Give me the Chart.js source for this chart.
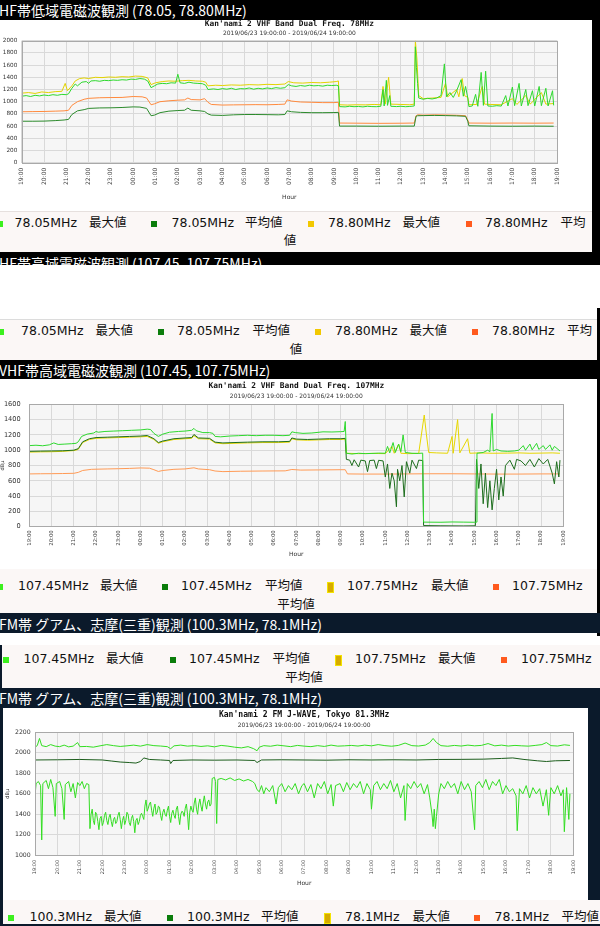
<!DOCTYPE html>
<html><head><meta charset="utf-8">
<script src="https://cdn.jsdelivr.net/npm/chart.js@4.4.1/dist/chart.umd.min.js"></script>
<style>
html,body{margin:0;padding:0;background:#fff;}
#page{position:relative;width:600px;height:926px;overflow:hidden;background:#fff;font-family:"DejaVu Sans","Noto Sans CJK JP",sans-serif;}
.blk{position:absolute;}
.bar{position:absolute;left:0;width:600px;overflow:hidden;}
.bar span{position:absolute;white-space:nowrap;color:#fff;font-family:"Noto Sans CJK JP",sans-serif;font-size:14px;line-height:20px;}
.lg{position:absolute;background:#fbf7f6;}
.t{position:absolute;white-space:nowrap;font-size:12.5px;line-height:16px;color:#111;font-family:"DejaVu Sans","Noto Sans CJK JP",sans-serif;}
.sq{position:absolute;}
canvas{position:absolute;}
</style></head>
<body><div id="page"></div>
<script>
// ---------------- DATA ----------------
const hourLabels = ['19:00','20:00','21:00','22:00','23:00','00:00','01:00','02:00','03:00','04:00','05:00','06:00','07:00','08:00','09:00','10:00','11:00','12:00','13:00','14:00','15:00','16:00','17:00','18:00','19:00'];
const periodText = '2019/06/23 19:00:00 - 2019/06/24 19:00:00';

// Chart 1 : Kan'nami 2 VHF Band Dual Freq. 78MHz   [hour index from 19:00, value]
const c1Max7805 = [[0,1090],[0.2,1100],[0.4,1085],[0.6,1105],[0.8,1095],[1.0,1110],[1.2,1100],[1.4,1115],[1.6,1105],[1.8,1120],[2.0,1115],[2.1,1130],[2.25,1220],[2.4,1290],[2.5,1260],[2.7,1320],[2.9,1330],[3.0,1300],[3.1,1340],[3.3,1345],[3.5,1335],[3.7,1350],[3.9,1345],[4.1,1355],[4.3,1350],[4.5,1360],[4.7,1355],[4.9,1370],[5.1,1365],[5.3,1380],[5.5,1370],[5.65,1340],[5.8,1230],[5.95,1260],[6.1,1290],[6.3,1300],[6.5,1295],[6.7,1310],[6.9,1305],[7.0,1450],[7.1,1310],[7.3,1300],[7.5,1320],[7.7,1305],[7.9,1300],[8.1,1295],[8.25,1270],[8.35,1200],[8.6,1210],[8.8,1200],[9.0,1215],[9.2,1205],[9.4,1220],[9.6,1200],[9.8,1215],[10.0,1210],[10.2,1225],[10.4,1205],[10.6,1220],[10.8,1210],[11.0,1225],[11.2,1215],[11.4,1230],[11.6,1220],[11.8,1230],[11.95,1280],[12.1,1260],[12.3,1250],[12.5,1265],[12.7,1255],[12.9,1270],[13.1,1260],[13.3,1265],[13.5,1255],[13.7,1270],[13.9,1265],[14.1,1270],[14.2,1260],[14.25,920],[14.5,915],[14.7,925],[14.9,918],[15.1,922],[15.3,915],[15.5,925],[15.7,920],[15.9,918],[16.1,925],[16.2,1200],[16.25,930],[16.35,1350],[16.4,940],[16.5,1100],[16.55,925],[16.8,920],[17.0,925],[17.2,918],[17.4,922],[17.6,930],[17.65,1900],[17.7,1560],[17.75,1300],[17.8,1060],[18.0,1040],[18.2,1055],[18.4,1045],[18.6,1060],[18.8,1100],[18.95,1620],[19.05,1080],[19.2,1150],[19.35,1070],[19.5,1180],[19.7,1360],[19.8,1090],[19.9,1250],[20.0,1060],[20.05,920],[20.2,930],[20.35,1120],[20.45,925],[20.6,1480],[20.7,940],[20.8,1500],[20.9,930],[21.1,925],[21.3,935],[21.5,928],[21.7,1100],[21.8,930],[22.0,1240],[22.1,935],[22.3,1300],[22.4,930],[22.6,1200],[22.7,935],[22.9,1180],[23.0,930],[23.2,1250],[23.3,935],[23.5,1220],[23.6,930],[23.8,1180],[23.85,940]];
const c1Avg7805 = [[0,680],[0.5,680],[1.0,682],[1.5,690],[1.9,700],[2.1,710],[2.25,790],[2.5,850],[2.8,870],[3.0,890],[3.5,898],[4.0,900],[4.5,905],[5.0,915],[5.3,912],[5.6,890],[5.8,770],[5.95,780],[6.2,820],[6.6,845],[7.0,855],[7.3,860],[7.45,895],[7.6,860],[8.0,850],[8.2,840],[8.35,800],[8.5,780],[9.0,775],[9.5,785],[10.0,790],[10.5,790],[11.0,788],[11.5,785],[11.8,790],[11.9,850],[12.1,835],[12.5,825],[13.0,820],[13.5,820],[14.0,822],[14.2,825],[14.25,600],[15.0,600],[16.0,598],[17.0,600],[17.6,600],[17.68,760],[17.75,770],[18.0,772],[18.5,775],[19.0,772],[19.5,768],[19.9,760],[20.0,680],[20.05,605],[21.0,600],[22.0,598],[23.0,600],[23.85,598]];
const c1Max7880 = [[0,1140],[0.3,1150],[0.6,1135],[0.9,1160],[1.2,1150],[1.5,1165],[1.8,1170],[1.95,1300],[2.05,1180],[2.25,1260],[2.4,1340],[2.6,1380],[2.8,1390],[3.0,1380],[3.3,1400],[3.6,1395],[3.9,1405],[4.2,1400],[4.5,1410],[4.8,1405],[5.1,1420],[5.4,1415],[5.65,1390],[5.8,1280],[6.0,1310],[6.3,1330],[6.6,1340],[6.9,1335],[7.2,1345],[7.5,1350],[7.8,1340],[8.1,1335],[8.25,1320],[8.35,1260],[8.7,1270],[9.0,1265],[9.4,1275],[9.8,1270],[10.2,1280],[10.6,1275],[11.0,1285],[11.4,1280],[11.8,1290],[11.95,1330],[12.2,1310],[12.6,1305],[13.0,1315],[13.4,1310],[13.8,1320],[14.1,1330],[14.2,1340],[14.25,950],[14.6,945],[15.0,950],[15.4,948],[15.8,955],[16.1,950],[16.2,1250],[16.3,960],[16.45,1400],[16.55,960],[17.0,955],[17.4,950],[17.6,960],[17.65,2000],[17.72,1700],[17.8,1100],[18.0,1050],[18.4,1060],[18.8,1070],[19.0,1300],[19.1,1080],[19.5,1200],[19.6,1080],[19.75,1380],[19.85,1100],[20.0,1070],[20.05,950],[20.4,955],[20.65,1250],[20.75,960],[21.0,955],[21.5,950],[22.0,1050],[22.2,955],[22.6,1100],[22.8,960],[23.3,1150],[23.5,960],[23.85,970]];
const c1Avg7880 = [[0,835],[0.5,838],[1.0,840],[1.5,845],[1.9,850],[2.1,860],[2.25,940],[2.5,1000],[2.8,1040],[3.0,1055],[3.5,1065],[4.0,1068],[4.5,1070],[5.0,1085],[5.4,1080],[5.6,1060],[5.8,950],[5.95,965],[6.2,1000],[6.6,1015],[7.0,1025],[7.3,1030],[7.45,1060],[7.6,1035],[8.0,1030],[8.2,1050],[8.35,990],[8.5,955],[9.0,945],[9.5,948],[10.0,950],[10.5,952],[11.0,950],[11.5,955],[11.8,960],[11.9,1030],[12.1,1010],[12.5,995],[13.0,990],[13.5,985],[14.0,985],[14.2,990],[14.25,650],[15.0,648],[16.0,645],[17.0,647],[17.6,650],[17.68,770],[17.75,785],[18.0,780],[18.5,785],[19.0,782],[19.5,778],[19.9,770],[20.0,700],[20.05,650],[21.0,648],[22.0,650],[23.0,648],[23.85,650]];

// Chart 2 : Kan'nami 2 VHF Band Dual Freq. 107MHz
const c2Max10745 = [[0,1060],[0.3,1065],[0.6,1058],[0.9,1070],[1.1,1095],[1.3,1075],[1.6,1080],[1.9,1085],[2.1,1090],[2.2,1110],[2.35,1180],[2.6,1210],[2.9,1225],[3.0,1245],[3.1,1235],[3.4,1245],[3.8,1250],[4.2,1255],[4.6,1260],[5.0,1265],[5.3,1275],[5.45,1270],[5.6,1220],[5.8,1180],[6.0,1210],[6.3,1235],[6.7,1245],[7.0,1250],[7.3,1260],[7.4,1285],[7.5,1255],[7.8,1230],[8.1,1230],[8.25,1220],[8.35,1180],[8.6,1175],[9.0,1185],[9.4,1190],[9.8,1195],[10.2,1190],[10.6,1195],[11.0,1195],[11.4,1190],[11.7,1195],[11.8,1240],[11.95,1230],[12.3,1220],[12.7,1225],[13.2,1240],[13.6,1238],[14.0,1242],[14.15,1245],[14.2,1375],[14.25,960],[14.5,950],[14.8,960],[15.1,955],[15.4,958],[15.7,962],[16.0,960],[16.1,1050],[16.2,965],[16.35,1100],[16.45,970],[16.6,1080],[16.7,980],[16.8,1200],[16.9,970],[17.2,960],[17.5,958],[17.68,962],[17.72,60],[18.5,58],[19.0,62],[19.5,60],[20.0,58],[20.08,60],[20.12,960],[20.4,970],[20.6,1000],[20.7,980],[20.8,1480],[20.85,990],[21.0,1010],[21.2,990],[21.5,985],[21.8,990],[22.0,1000],[22.2,1060],[22.3,1000],[22.5,1080],[22.6,1005],[22.8,1090],[22.9,1010],[23.1,1060],[23.2,1010],[23.4,1070],[23.5,1000],[23.6,1050],[23.85,990]];
const c2Avg10745 = [[0,985],[0.5,988],[1.0,990],[1.5,992],[2.0,1000],[2.2,1020],[2.4,1110],[2.7,1150],[3.0,1165],[3.5,1170],[4.0,1175],[4.5,1180],[5.0,1185],[5.3,1192],[5.6,1150],[5.8,1100],[6.0,1120],[6.5,1150],[7.0,1160],[7.3,1165],[7.4,1205],[7.6,1160],[8.1,1155],[8.35,1105],[8.7,1095],[9.2,1100],[9.8,1105],[10.5,1110],[11.2,1110],[11.7,1115],[11.8,1160],[12.0,1145],[12.5,1140],[13.0,1145],[13.5,1150],[14.0,1150],[14.2,1155],[14.25,880],[14.4,870],[14.5,800],[14.6,875],[14.8,780],[14.9,870],[15.1,860],[15.2,720],[15.3,865],[15.5,870],[15.6,760],[15.7,868],[15.9,860],[16.0,650],[16.1,820],[16.2,500],[16.3,700],[16.4,600],[16.5,260],[16.55,750],[16.65,600],[16.75,800],[16.85,390],[16.95,850],[17.1,700],[17.2,870],[17.4,760],[17.5,870],[17.68,865],[17.72,15],[18.5,12],[19.5,10],[20.05,12],[20.1,880],[20.2,500],[20.3,820],[20.4,300],[20.5,700],[20.6,250],[20.7,600],[20.8,220],[20.9,500],[21.0,750],[21.1,350],[21.2,650],[21.3,400],[21.4,800],[21.6,870],[21.8,750],[21.9,880],[22.1,860],[22.3,800],[22.5,880],[22.7,780],[22.9,890],[23.1,820],[23.3,880],[23.5,700],[23.6,560],[23.7,850],[23.8,650],[23.85,870]];
const c2Max10775 = [[0,975],[0.5,978],[1.0,980],[1.5,985],[2.0,995],[2.2,1010],[2.4,1100],[2.7,1140],[3.0,1155],[3.5,1160],[4.0,1165],[4.5,1170],[5.0,1175],[5.3,1180],[5.6,1140],[5.8,1090],[6.0,1110],[6.5,1140],[7.0,1150],[7.3,1155],[7.4,1190],[7.6,1150],[8.1,1145],[8.35,1095],[8.7,1085],[9.2,1090],[9.8,1095],[10.5,1100],[11.2,1100],[11.7,1105],[11.8,1150],[12.0,1135],[12.5,1130],[13.0,1135],[13.5,1140],[14.0,1140],[14.2,1145],[14.25,960],[14.8,955],[15.4,958],[16.0,955],[16.3,1050],[16.4,960],[16.6,1080],[16.7,960],[17.0,955],[17.5,958],[17.75,1460],[17.85,1200],[17.95,970],[18.3,965],[18.8,960],[19.0,1180],[19.05,960],[19.25,1400],[19.35,965],[19.7,1150],[19.8,960],[20.2,965],[20.8,960],[21.5,962],[22.0,965],[22.5,960],[23.0,962],[23.5,965],[23.85,960]];
const c2Avg10775 = [[0,690],[0.5,692],[1.0,693],[1.5,695],[2.0,698],[2.2,710],[2.4,735],[2.8,750],[3.5,755],[4.0,758],[4.5,762],[5.0,768],[5.4,765],[5.6,745],[5.8,722],[6.0,735],[6.5,750],[7.0,755],[7.4,770],[7.6,755],[8.1,745],[8.35,728],[8.7,720],[9.5,725],[10.5,728],[11.5,730],[11.8,748],[12.2,740],[13.0,742],[14.0,745],[14.2,745],[14.3,690],[15.0,688],[16.0,688],[17.0,690],[18.0,692],[19.0,692],[20.0,690],[21.0,688],[22.0,688],[23.0,690],[23.85,690]];

// Chart 3 : Kan'nami 2 FM J-WAVE, Tokyo 81.3MHz
const c3Max1003 = [[0,2055],[0.1,2070],[0.2,2140],[0.3,2070],[0.5,2060],[0.7,2080],[0.9,2065],[1.1,2060],[1.3,2075],[1.5,2058],[1.7,2065],[1.9,2100],[2.0,2060],[2.3,2062],[2.6,2055],[2.9,2068],[3.2,2080],[3.5,2070],[3.8,2062],[4.1,2068],[4.4,2075],[4.7,2065],[5.0,2080],[5.3,2070],[5.6,2066],[5.9,2060],[6.05,2040],[6.2,2068],[6.5,2075],[6.8,2065],[7.1,2070],[7.4,2062],[7.7,2068],[8.0,2058],[8.3,2072],[8.6,2065],[8.9,2055],[9.2,2048],[9.5,2060],[9.75,2040],[9.9,2020],[10.0,2055],[10.2,2070],[10.5,2064],[10.8,2075],[11.1,2068],[11.4,2060],[11.7,2072],[12.0,2065],[12.3,2060],[12.6,2070],[12.9,2062],[13.2,2075],[13.5,2065],[13.8,2068],[14.1,2072],[14.4,2066],[14.7,2075],[15.0,2068],[15.3,2080],[15.6,2070],[15.9,2064],[16.2,2072],[16.5,2095],[16.8,2070],[17.1,2066],[17.4,2075],[17.6,2100],[17.75,2140],[17.9,2100],[18.1,2070],[18.4,2064],[18.7,2072],[19.0,2066],[19.3,2075],[19.6,2068],[19.9,2072],[20.2,2090],[20.5,2068],[20.8,2075],[21.1,2066],[21.4,2072],[21.7,2068],[22.0,2065],[22.3,2072],[22.6,2080],[22.8,2100],[23.0,2070],[23.3,2066],[23.6,2078],[23.85,2072]];
const c3Avg1003 = [[0,1930],[1,1932],[2,1935],[3,1930],[3.4,1920],[3.8,1910],[4.2,1905],[4.5,1900],[4.7,1915],[4.85,1950],[5.1,1935],[5.6,1930],[6.0,1925],[6.05,1895],[6.15,1925],[7,1930],[8,1928],[9,1930],[9.8,1925],[9.9,1905],[10.1,1930],[11,1932],[12,1930],[13,1928],[14,1932],[15,1930],[16,1932],[17,1930],[18,1935],[19,1936],[20,1938],[20.8,1945],[21.3,1950],[21.8,1935],[22.4,1922],[22.8,1915],[23.2,1922],[23.85,1925]];
const c3LowerTrace = [[0,1580],[0.05,1700],[0.15,1720],[0.25,1680],[0.3,1150],[0.35,1700],[0.5,1730],[0.6,1650],[0.7,1740],[0.8,1660],[0.9,1380],[0.95,1700],[1.1,1720],[1.2,1650],[1.3,1350],[1.35,1690],[1.5,1720],[1.6,1620],[1.7,1700],[1.8,1560],[1.9,1710],[2.0,1680],[2.1,1720],[2.2,1650],[2.3,1700],[2.4,1690],[2.45,1260],[2.5,1400],[2.55,1450],[2.6,1340],[2.65,1300],[2.7,1420],[2.75,1400],[2.8,1330],[2.85,1250],[2.9,1360],[2.95,1380],[3.0,1290],[3.05,1320],[3.1,1390],[3.15,1420],[3.2,1340],[3.25,1300],[3.3,1370],[3.35,1400],[3.4,1330],[3.45,1280],[3.5,1350],[3.55,1370],[3.6,1310],[3.65,1330],[3.7,1390],[3.75,1420],[3.8,1350],[3.85,1260],[3.9,1340],[3.95,1380],[4.0,1300],[4.05,1340],[4.1,1420],[4.15,1400],[4.2,1320],[4.25,1290],[4.3,1360],[4.35,1390],[4.4,1330],[4.45,1220],[4.5,1340],[4.55,1360],[4.6,1300],[4.65,1330],[4.7,1390],[4.75,1410],[4.8,1380],[4.85,1350],[4.9,1480],[4.95,1540],[5.0,1430],[5.05,1460],[5.1,1500],[5.15,1520],[5.2,1440],[5.25,1380],[5.3,1460],[5.35,1500],[5.4,1400],[5.45,1420],[5.5,1480],[5.55,1470],[5.6,1390],[5.65,1340],[5.7,1420],[5.75,1450],[5.8,1400],[5.85,1380],[5.9,1440],[5.95,1480],[6.0,1380],[6.05,1320],[6.1,1410],[6.15,1440],[6.2,1390],[6.25,1360],[6.3,1450],[6.35,1480],[6.4,1380],[6.45,1300],[6.5,1400],[6.55,1430],[6.6,1420],[6.65,1380],[6.7,1460],[6.75,1500],[6.8,1400],[6.85,1250],[6.9,1420],[6.95,1480],[7.0,1440],[7.05,1420],[7.1,1510],[7.15,1560],[7.2,1450],[7.25,1400],[7.3,1500],[7.35,1550],[7.4,1480],[7.45,1430],[7.5,1520],[7.55,1580],[7.6,1500],[7.65,1450],[7.7,1520],[7.75,1540],[7.8,1480],[7.85,1500],[7.9,1750],[8.0,1760],[8.05,1720],[8.1,1310],[8.15,1740],[8.3,1750],[8.5,1735],[8.7,1755],[8.9,1730],[9.1,1745],[9.3,1725],[9.5,1740],[9.7,1720],[9.8,1700],[9.9,1640],[10.0,1620],[10.1,1680],[10.2,1600],[10.3,1660],[10.45,1620],[10.6,1680],[10.75,1500],[10.85,1660],[11.0,1700],[11.15,1620],[11.3,1680],[11.45,1640],[11.6,1700],[11.75,1600],[11.9,1680],[12.0,1700],[12.15,1620],[12.3,1690],[12.45,1560],[12.6,1700],[12.75,1650],[12.9,1720],[13.05,1600],[13.2,1690],[13.3,1480],[13.4,1680],[13.6,1700],[13.75,1620],[13.9,1710],[14.05,1640],[14.2,1700],[14.35,1660],[14.5,1720],[14.65,1600],[14.8,1700],[14.95,1640],[15.0,1450],[15.1,1680],[15.25,1720],[15.4,1640],[15.55,1700],[15.7,1650],[15.85,1730],[16.0,1620],[16.15,1700],[16.3,1560],[16.45,1680],[16.5,1340],[16.6,1700],[16.75,1650],[16.9,1720],[17.05,1660],[17.2,1700],[17.35,1600],[17.5,1690],[17.6,1560],[17.7,1400],[17.75,1280],[17.8,1450],[17.85,1260],[17.9,1380],[18.0,1600],[18.1,1700],[18.25,1650],[18.4,1720],[18.55,1660],[18.7,1700],[18.85,1600],[19.0,1720],[19.15,1640],[19.3,1700],[19.45,1620],[19.6,1250],[19.65,1680],[19.8,1720],[19.95,1660],[20.1,1740],[20.25,1640],[20.4,1720],[20.55,1680],[20.7,1740],[20.85,1600],[21.0,1680],[21.15,1620],[21.3,1650],[21.45,1580],[21.5,1240],[21.6,1650],[21.75,1600],[21.9,1680],[22.05,1560],[22.2,1660],[22.35,1600],[22.5,1650],[22.65,1480],[22.8,1640],[22.9,1390],[23.0,1660],[23.15,1600],[23.3,1680],[23.45,1580],[23.55,1640],[23.6,1230],[23.7,1660],[23.8,1350],[23.85,1600]];

// Legend / header texts
const legend1Labels = [['78.05MHz','最大値'],['78.05MHz','平均値'],['78.80MHz','最大値'],['78.80MHz','平均値']];
const legend2Labels = [['107.45MHz','最大値'],['107.45MHz','平均値'],['107.75MHz','最大値'],['107.75MHz','平均値']];
const legend3Labels = [['100.3MHz','最大値'],['100.3MHz','平均値'],['78.1MHz','最大値'],['78.1MHz','平均値']];
const headerTexts = ['VHF帯低域電磁波観測 (78.05, 78.80MHz)','VHF帯高域電磁波観測 (107.45, 107.75MHz)','FM帯 グアム、志摩(三重)観測 (100.3MHz, 78.1MHz)'];

// ---------------- LAYOUT ----------------
const page = document.getElementById('page');
function el(cls, css, parent){ const d=document.createElement('div'); if(cls) d.className=cls; Object.assign(d.style, css); (parent||page).appendChild(d); return d; }
function px(v){ return v+'px'; }

function bar(top, h, bg, text, x, cy){
  const b = el('bar', {top:px(top), height:px(h), background:bg});
  const s = document.createElement('span'); s.textContent = text; s.style.left = px(x); s.style.top = px(cy - 10); b.appendChild(s);
}
function block(l,t,w,h,bg){ el('blk',{left:px(l),top:px(t),width:px(w),height:px(h),background:bg}); }

const legendColors = ['#3cf01e','#0b7d0b','#f2c800','#ff5a1e'];
function legend(box, labels, items, row1, row2, wrapText, wrapX, tallYellow){
  el('lg',{left:px(box.l),top:px(box.t),width:px(box.w),height:px(box.h),borderTop:box.bt||'none'});
  function txt(s, x, cy, center){ const d = el('t',{left:px(x), top:px(cy-8)}); d.textContent=s; if(center){ d.style.left='0px'; d.style.width=px(2*x); d.style.textAlign='center'; } return d; }
  items.forEach((it,i)=>{
    if (i===2 && tallYellow) el('sq',{left:px(it.sq),top:px(row1-4),width:px(5),height:px(9),background:'#d6ab00',border:'1px solid #f4e300'});
    else el('sq',{left:px(it.sq),top:px(row1-2),width:px(6),height:px(6),background:legendColors[i]});
    txt(labels[i][0], it.f, row1);
    if (it.k !== null) txt(it.split ? labels[i][1].slice(0,it.split) : labels[i][1], it.k, row1);
  });
  if (wrapText) txt(wrapText, wrapX, row2, true);
}

// header bars, frames and legends
bar(0, 20, '#000', headerTexts[0], -9, 10);
block(592, 0, 8, 265, '#000');
legend({l:0,t:211,w:592,h:41,bt:'1px solid #e6e0de'}, legend1Labels,
  [{sq:-3,f:14.5,k:89},{sq:151,f:171.5,k:245},{sq:308,f:328,k:402.5},{sq:466,f:485,k:560.5,split:2}], 222.5, 241, '値', 290);
bar(252, 13, '#000', headerTexts[1], -9, 10.5);
block(597, 308, 3, 328, '#000');
legend({l:0,t:319,w:597,h:41,bt:'1px solid #dcdcdc'}, legend1Labels,
  [{sq:-2,f:21,k:95.5},{sq:158,f:177,k:252.5},{sq:472,f:492,k:566,split:2}].slice(0,2).concat([{sq:315,f:335,k:409.5},{sq:472,f:492,k:567,split:2}]), 331, 350, '値', 296);
bar(360, 19, '#000', headerTexts[1], -1, 9.5);
legend({l:0,t:569,w:597,h:44}, legend2Labels,
  [{sq:-3,f:18,k:100},{sq:162,f:181,k:265},{sq:327,f:347,k:431},{sq:493,f:512,k:null}], 586, 605, '平均値', 296, true);
bar(613, 20, '#0b1a2b', headerTexts[2], -1, 10.5);
block(0, 645, 2, 43, '#0b1a2b');
legend({l:2,t:645,w:598,h:43}, legend2Labels,
  [{sq:3,f:23.5,k:106},{sq:170,f:189,k:272.5},{sq:335,f:355,k:438},{sq:501,f:521,k:null}], 659, 678, '平均値', 304, true);
bar(688, 20, '#0b1a2b', headerTexts[2], -1, 10);
block(0, 708, 3, 218, '#0b1a2b');
block(588, 708, 12, 192, '#0b1a2b');
legend({l:3,t:900,w:597,h:24}, legend3Labels,
  [{sq:8,f:29.5,k:104},{sq:167,f:187,k:261},{sq:324,f:345,k:412.5},{sq:474,f:494.5,k:561.5}], 916.5, 0, null, 0, true);
block(0, 924, 600, 2, '#0b1a2b');

// ---------------- CHARTS ----------------
const plotFrame = {
  id:'plotFrame',
  beforeDraw(chart){ const {ctx, chartArea:a} = chart; ctx.save(); ctx.fillStyle='#f6f6f6'; ctx.fillRect(a.left,a.top,a.right-a.left,a.bottom-a.top); ctx.restore(); },
  afterDraw(chart){ const {ctx, chartArea:a} = chart; ctx.save(); ctx.strokeStyle='#a9a9a9'; ctx.lineWidth=1; ctx.strokeRect(Math.round(a.left)+0.5,Math.round(a.top)+0.5,Math.round(a.right-a.left),Math.round(a.bottom-a.top)); ctx.restore(); }
};
function line(label, pairs, color){
  return {label, data: pairs.map(p=>({x:p[0],y:p[1]})), borderColor:color, backgroundColor:color, borderWidth:1, pointRadius:0, tension:0, fill:false};
}
function makeChart(g, title, datasets, yMin, yMax, yTitle){
  const cv = document.createElement('canvas');
  cv.width = g.w; cv.height = g.h; cv.style.left = px(g.l); cv.style.top = px(g.t);
  page.appendChild(cv);
  new Chart(cv.getContext('2d'), {
    type:'line',
    data:{datasets},
    options:{
      responsive:false, animation:false, devicePixelRatio:1,
      layout:{padding:{left:0,right:g.padR,top:0,bottom:0}},
      plugins:{
        legend:{display:false}, tooltip:{enabled:false},
        title:{display:true, text:title, fullSize:false, color:'#111', font:{family:'DejaVu Sans Mono', size:g.tSize, lineHeight:1}, padding:{top:g.tTop,bottom:g.tBot}},
        subtitle:{display:true, text:periodText, fullSize:false, color:'#333', font:{family:'DejaVu Sans', size:6, lineHeight:1}, padding:{top:0,bottom:g.sBot}}
      },
      scales:{
        x:{type:'linear', min:0, max:24,
          afterFit(s){ s.height = g.xH; },
          ticks:{stepSize:1, autoSkip:false, minRotation:90, maxRotation:90, padding:g.xPad, color:'#444', font:{family:'DejaVu Sans', size:g.xFont}, callback:(v)=>hourLabels[Math.round(v)]},
          grid:{color:'#d9d9d9', drawTicks:false}, border:{display:false},
          title:{display:true, text:'Hour', color:'#333', font:{family:'DejaVu Sans', size:6, lineHeight:1}, padding:{top:0,bottom:g.hourPad}}},
        y:{min:yMin, max:yMax,
          afterFit(s){ s.width = g.yW; },
          ticks:{stepSize:200, padding:g.yPad, color:'#333', font:{family:'DejaVu Sans', size:g.yFont}, callback:(v)=>String(v)},
          grid:{color:'#d9d9d9', drawTicks:false}, border:{display:false},
          title:{display:!!yTitle, text:yTitle||'', color:'#333', font:{family:'DejaVu Sans', size:5, lineHeight:1}, padding:{top:g.yTitlePad||0,bottom:0}}}
      }
    },
    plugins:[plotFrame]
  });
}

makeChart({l:0,t:20,w:588,h:188,padR:31,yW:21.7,xH:45.3,tSize:7.8,tTop:0,tBot:2.25,sBot:4.65,xPad:5,xFont:6,yPad:4.4,yFont:5.7,hourPad:8},
  "Kan'nami 2 VHF Band Dual Freq. 78MHz",
  [line('78.05MHz 最大値', c1Max7805, '#2ed82e'), line('78.05MHz 平均値', c1Avg7805, '#2c8a2c'),
   line('78.80MHz 最大値', c1Max7880, '#e2d200'), line('78.80MHz 平均値', c1Avg7880, '#ff8a3d')], 0, 2000, null);

makeChart({l:0,t:379,w:590,h:190,padR:26.7,yW:29.3,xH:42.3,tSize:7.9,tTop:3,tBot:3.1,sBot:5.3,xPad:3.5,xFont:5.4,yPad:8.6,yFont:6.6,hourPad:12,yTitlePad:0},
  "Kan'nami 2 VHF Band Dual Freq. 107MHz",
  [line('107.45MHz 最大値', c2Max10745, '#2ed82e'), line('107.45MHz 平均値', c2Avg10745, '#1e6e1e'),
   line('107.75MHz 最大値', c2Max10775, '#e6d600'), line('107.75MHz 平均値', c2Avg10775, '#ff9a55')], 0, 1600, 'dBμ');

makeChart({l:3,t:708,w:585,h:192,padR:14.7,yW:32,xH:44.7,tSize:8.1,tTop:3,tBot:2.9,sBot:4.3,xPad:4.5,xFont:5,yPad:4.3,yFont:6.2,hourPad:14,yTitlePad:1.8},
  "Kan'nami 2 FM J-WAVE, Tokyo 81.3MHz",
  [line('100.3MHz 最大値', c3Max1003, '#33dd22'), line('100.3MHz 平均値', c3Avg1003, '#1d5e1d'),
   line('81.3MHz', c3LowerTrace, '#33dd22')], 1000, 2200, 'dBμ');
</script>
</body></html>
